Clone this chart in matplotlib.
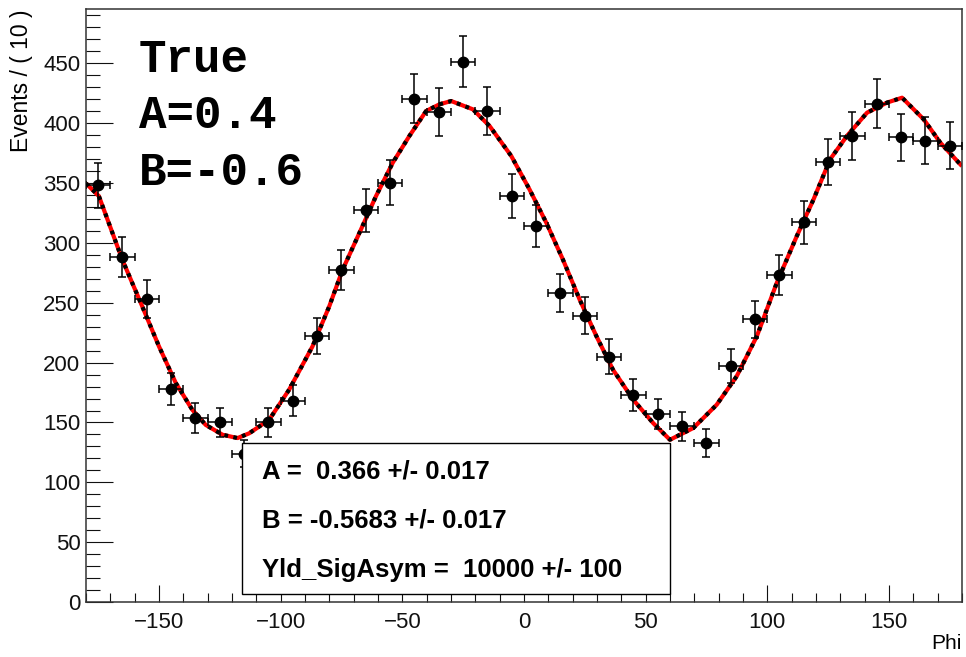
import numpy as np
import matplotlib
matplotlib.use("Agg")
import matplotlib.pyplot as plt
from matplotlib.patches import Rectangle
from matplotlib.ticker import MultipleLocator

# binned data (bin width 10 deg)
phi = [-175, -165, -155, -145, -135, -125, -115, -105, -95, -85, -75, -65,
       -55, -45, -35, -25, -15, -5, 5, 15, 25, 35, 45, 55, 65, 75, 85, 95,
       105, 115, 125, 135, 145, 155, 165, 175]
events = [348, 288, 253, 178, 154, 150, 124, 150, 168, 222, 277, 327,
          350, 420, 409, 451, 410, 339, 314, 258, 239, 205, 173, 157, 147, 133, 197, 236,
          273, 317, 367, 389, 416, 388, 385, 381]

# fitted curve
curve_phi = [-180, -174.7, -165.1, -156.9, -150, -143.1, -136.3, -130.8, -123.9,
             -117.7, -112.9, -104.7, -96.5, -86.9, -80, -74.5, -67.6, -60.8, -53.9,
             -47.1, -40.2, -34.7, -29.9, -21, -14.1, -5.2, 2.3, 9.2, 16, 22.9, 29.8,
             36.6, 44.9, 53.1, 60, 69.6, 79.2, 87.4, 95.7, 103.9, 112.1, 119, 125.8,
             132.7, 141, 149.2, 155.4, 164.3, 171.1, 180]
curve_val = [349.5, 338.9, 286, 247, 213.5, 183, 160.6, 148, 139.8,
             137, 141, 152.3, 177.4, 213.5, 247, 277.6, 308.3, 338.9, 366.8,
             389, 409.9, 415.5, 418.2, 411.3, 397.3, 372.3, 344.4, 316.6, 286, 252.5, 221.9,
             194, 169, 149.5, 135.6, 145.4, 164.8, 188.5, 221.9, 266.5, 305.4, 336.1, 369.5,
             389, 408.5, 416.9, 421, 402.9, 383.5, 363.9]

fit_lines = ["A =  0.366 +/- 0.017",
             "B = -0.5683 +/- 0.017",
             "Yld_SigAsym =  10000 +/- 100"]
true_lines = ["True", "A=0.4", "B=-0.6"]

plt.rcParams['font.family'] = ['Liberation Sans', 'DejaVu Sans']

fig = plt.figure(figsize=(9.66, 6.57), dpi=100)
ax = fig.add_axes([0.089, 0.0833, 0.9068, 0.903])

ax.plot(curve_phi, curve_val, color='red', lw=3.0, zorder=2, solid_capstyle='butt')
ax.plot(curve_phi, curve_val, color='black', lw=3.0, dashes=(0.9, 1.3), zorder=2.1)

ax.errorbar(phi, events, xerr=5, yerr=np.sqrt(events), fmt='o', color='black',
            ms=7.5, capsize=2.8, elinewidth=1.1, capthick=1.1, zorder=3)

ax.set_xlim(-180, 180)
ax.set_ylim(0, 495)
ax.xaxis.set_major_locator(MultipleLocator(50))
ax.xaxis.set_minor_locator(MultipleLocator(10))
ax.yaxis.set_major_locator(MultipleLocator(50))
ax.yaxis.set_minor_locator(MultipleLocator(10))
ax.tick_params(which='both', direction='in', top=False, right=False, width=0.8,
               labelsize=16, colors='#111111')
ax.tick_params(axis='y', which='major', length=19.5, pad=4)
ax.tick_params(axis='y', which='minor', length=10)
ax.tick_params(axis='x', which='major', length=12.5, pad=7)
ax.tick_params(axis='x', which='minor', length=6.5)
for s in ax.spines.values():
    s.set_linewidth(1.1)
    s.set_color('#333333')

ax.set_ylabel("Events / ( 10 )", fontsize=16.5, loc='top')
ax.yaxis.set_label_coords(-0.061, 1.0)
ax.set_xlabel("Phi", fontsize=15, loc='right')
ax.xaxis.set_label_coords(1.0, -0.053)

# fit result box
ax.add_patch(Rectangle((0.1777, 0.0135), 0.489, 0.2545, transform=ax.transAxes,
                       facecolor='white', edgecolor='black', lw=1, zorder=4))
for i, t in enumerate(fit_lines):
    ax.text(0.2006, 0.209 - i * 0.0835, t, transform=ax.transAxes, fontsize=18.5,
            fontweight='bold', va='baseline', ha='left', zorder=5)

for i, t in enumerate(true_lines):
    fig.text(139 / 966, 1 - (71.7 + i * 56.7) / 657, t, fontsize=33,
             family='Liberation Mono', fontweight='bold', va='baseline', ha='left')

fig.savefig("out.png", dpi=100)
